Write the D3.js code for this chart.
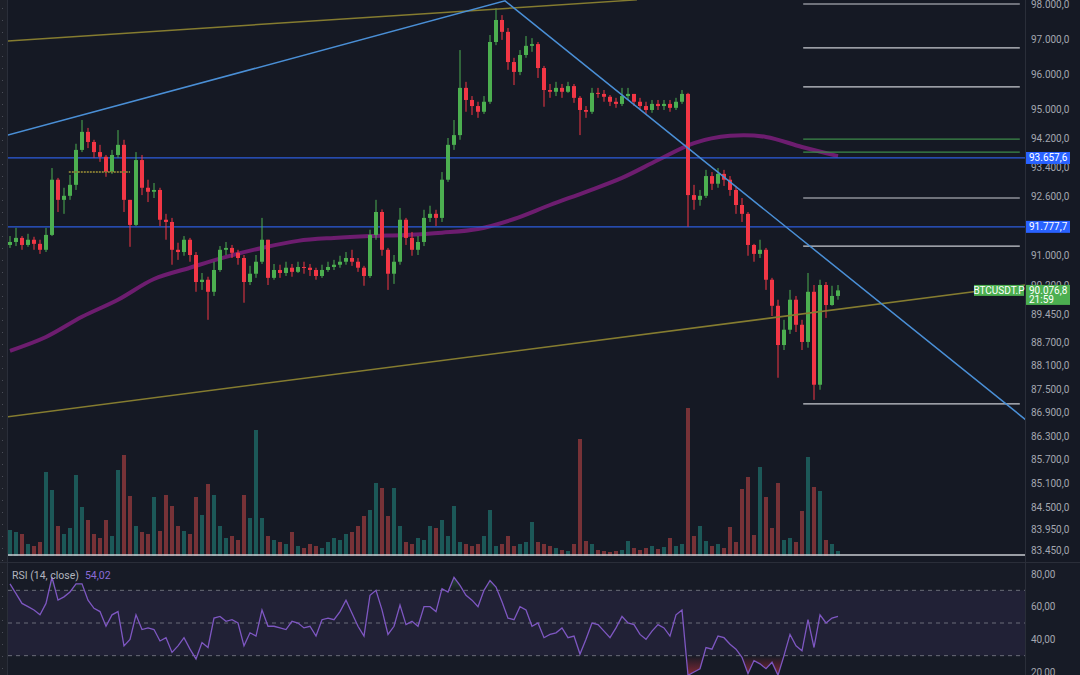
<!DOCTYPE html>
<html>
<head>
<meta charset="utf-8">
<script src="https://cdn.jsdelivr.net/npm/d3@7"></script>
<style>
  html, body { margin: 0; padding: 0; background: #151924; }
  svg { display: block; font-family: Roboto, "Liberation Sans", sans-serif; }
</style>
</head>
<body>
<div id="chart"></div>
<script>
// BTCUSDT.P candles, one every bar, prices
var firstOpen = 91290;
var closes = [
  91370, 91480, 91290, 91430, 91320, 91160, 91560, 93060, 92510, 92620,
  92920, 93880, 94380, 94100, 93820, 93690, 93270, 93740, 94020, 92510,
  91830, 93600, 92840, 92730, 92780, 91970, 91910, 91160, 91100, 91430,
  91020, 90300, 90360, 90040, 90620, 91160, 91210, 91080, 90940, 90300,
  90520, 90840, 91430, 90410, 90620, 90540, 90680, 90570, 90700, 90680,
  90620, 90460, 90620, 90700, 90760, 90840, 90940, 90840, 90680, 90460,
  91560, 92180, 91160, 90520, 90840, 91970, 91480, 91160, 91370, 92020,
  92130, 92020, 93060, 94020, 94290, 95610, 95270, 95100, 94940, 95220,
  96910, 97540, 97200, 96340, 96060, 96540, 96800, 96850, 96170, 95550,
  95500, 95610, 95500, 95660, 95330, 94990, 94940, 95470, 95440, 95360,
  95220, 95160, 95380, 95440, 95220, 95100, 94990, 95160, 95100, 95160,
  95050, 95220, 95440, 92640, 92510, 92620, 93160, 92950, 93220, 93060,
  92780, 92370, 92130, 91290, 91050, 91160, 90360, 89670, 88640, 89040,
  89830, 89170, 88720, 90040, 87610, 90220, 89690, 89930, 90076.8
];
var highs = [
  91530, 91750, 91530, 91590, 91510, 91430, 91750, 93380, 93110, 92840,
  93190, 94050, 94710, 94490, 94160, 94020, 93740, 93880, 94430, 94160,
  92510, 93820, 93740, 93060, 92970, 92840, 92130, 92020, 91350, 91530,
  91480, 91100, 90540, 90440, 90840, 91260, 91370, 91290, 91160, 91020,
  90730, 91020, 92020, 91430, 90780, 90760, 90840, 90780, 90840, 90840,
  90780, 90680, 90760, 90840, 90890, 91000, 91100, 91160, 90940, 90730,
  91700, 92510, 92250, 91210, 91020, 92290, 92020, 91640, 91530, 92240,
  92350, 92240, 93270, 94210, 94710, 96680, 95780, 95380, 95220, 95380,
  97110, 97880, 97680, 97310, 96460, 96680, 97080, 97020, 96910, 96230,
  95720, 95780, 95720, 95780, 95720, 95380, 95100, 95610, 95610, 95550,
  95410, 95330, 95610, 95610, 95440, 95330, 95220, 95270, 95270, 95270,
  95270, 95330, 95550, 95470, 92920, 92780, 93330, 93270, 93380, 93330,
  93160, 92890, 92560, 92180, 91320, 91430, 91210, 90410, 89830, 89300,
  90090, 89930, 89300, 90540, 90220, 90360, 90300, 90200, 90220
];
var lows = [
  91210, 91260, 91160, 91240, 91160, 91050, 91100, 91530, 92180, 92130,
  92510, 92780, 93820, 93930, 93660, 93550, 93140, 93220, 93660, 92180,
  91240, 91800, 92640, 92450, 92560, 91800, 91430, 90760, 90890, 91000,
  90840, 90040, 90090, 89300, 89930, 90570, 91020, 90940, 90760, 89750,
  90220, 90410, 90780, 90220, 90360, 90410, 90460, 90440, 90540, 90520,
  90460, 90360, 90410, 90570, 90620, 90680, 90760, 90730, 90570, 90200,
  90410, 91430, 91000, 90090, 90250, 90760, 91290, 91000, 91020, 91260,
  91910, 91800, 91910, 93000, 93880, 94160, 94940, 94850, 94770, 94880,
  95160, 96820, 96970, 96120, 95690, 95970, 96460, 96630, 95890, 95080,
  95330, 95380, 95330, 95470, 95190, 94290, 94770, 94880, 95330, 95220,
  95100, 95050, 95100, 95270, 95100, 94990, 94880, 94910, 94990, 94990,
  94940, 94990, 95160, 91780, 92240, 92350, 92560, 92780, 92840, 92890,
  92620, 92130, 91910, 91000, 90840, 90940, 90090, 89400, 87790, 88510,
  88930, 88980, 88510, 88570, 87220, 87480, 89350, 89670, 89830
];
var volumes = [
  26, 24, 22, 12, 10, 14, 84, 66, 30, 22,
  28, 81, 49, 36, 22, 18, 36, 20, 86, 101,
  60, 30, 24, 22, 59, 25, 61, 50, 30, 25,
  22, 59, 41, 72, 61, 30, 18, 20, 16, 61,
  38, 126, 38, 20, 16, 14, 12, 24, 10, 8,
  12, 10, 8, 14, 18, 16, 22, 24, 30, 40,
  46, 73, 68, 40, 68, 30, 14, 12, 18, 16,
  30, 28, 36, 20, 50, 14, 12, 10, 12, 20,
  46, 10, 12, 20, 10, 12, 14, 34, 14, 12,
  10, 8, 6, 5, 12, 117, 15, 12, 6, 5,
  4, 5, 6, 15, 8, 6, 8, 10, 7, 9,
  18, 10, 12, 148, 20, 30, 15, 10, 12, 8,
  29, 14, 67, 79, 21, 89, 59, 28, 73, 16,
  18, 14, 45, 99, 69, 65, 16, 12, 5
];
var rsi = [
  74, 68, 62, 60, 58, 55, 62, 78, 64, 66,
  69, 74, 74, 64, 59, 57, 48, 55, 57, 36,
  40, 55, 46, 47, 46, 39, 41, 32, 36, 41,
  34, 28, 38, 35, 53, 54, 51, 52, 50, 36,
  44, 42, 58, 48, 48, 47, 46, 51, 50, 47,
  48, 42, 52, 53, 52, 57, 64, 56, 48, 42,
  67, 70, 58, 43, 48, 61, 49, 51, 48, 60,
  60, 57, 71, 69, 78, 73, 67, 64, 60, 70,
  76, 72, 63, 53, 52, 60, 58, 48, 50, 41,
  43, 44, 47, 41, 42, 31, 40, 50, 49, 45,
  41, 47, 54, 50, 49, 43, 40, 45, 49, 47,
  42, 55, 58, 18, 20, 22, 35, 34, 42, 41,
  37, 34, 29, 19, 27, 25, 22, 26, 18, 30,
  43, 36, 33, 52, 35, 55, 50, 53, 54.02
];
// moving average, one value every 6 bars
var maStep = 6;
var maValues = [88490, 88850, 89380, 89830, 90380, 90680, 90970, 91210, 91400, 91480, 91530, 91560,
                91620, 91720, 91990, 92370, 92730, 93110, 93600, 94070, 94270, 94240, 93960, 93710];

var priceTicks = [98000, 97000, 96000, 95000, 94200, 93400, 92600, 91800, 91000, 90200, 89450,
                  88700, 88100, 87500, 86900, 86300, 85700, 85100, 84500, 83950, 83450];
var rsiTicks = [80, 60, 40, 20];
var rsiLevels = [70, 50, 30];

var whiteLevels = [98000, 96740, 95640, 92560, 91260, 87120];
var greenLevels = [94180, 93820];
var levelStart = 132.2, levelEnd = 168.3;
var blueLevels = [93657.6, 91777.7];
var baseLevel = 83330;

// drawings: [bar index, price]
var blueTrend = [[-0.35, 94290], [82.5, 98090], [169.3, 86710]];
var oliveUpper = [[-0.35, 96940], [104.5, 98120]];
var oliveLower = [[-0.35, 86790], [169.3, 90220]];
var oliveFlat = [[9.8, 93270], [20, 93270]];

var symbol = "BTCUSDT.P", countdown = "21:59";
var lastPrice = closes[closes.length - 1], lastRsi = rsi[rsi.length - 1];

var W = 1080, H = 675;
var loc = d3.formatLocale({decimal: ",", thousands: ".", grouping: [3], currency: ["", ""]});
var fmtPrice = loc.format(",.1f"), fmtRsi = loc.format(",.2f");

var n = closes.length;
var opens = closes.map(function(c, i) { return i === 0 ? firstOpen : closes[i - 1]; });

var x = d3.scaleLinear().domain([0, n - 1]).range([10, 838]);
var y = d3.scaleLog().domain([83450, 98000]).range([550, 4]);
var yVol = d3.scaleLinear().domain([0, 150]).range([556, 406]);
var yRsi = d3.scaleLinear().domain([20, 80]).range([672, 574]);

var upCol = "#4caf50", downCol = "#f23645";

var svg = d3.select("#chart").append("svg")
    .attr("width", W)
    .attr("height", H);

var defs = svg.append("defs");
defs.append("clipPath").attr("id", "mainClip")
  .append("rect").attr("x", 8).attr("y", 0).attr("width", 1017).attr("height", 561);
defs.append("clipPath").attr("id", "obClip")
  .append("rect").attr("x", 8).attr("y", 562).attr("width", 1017).attr("height", yRsi(70) - 562);
defs.append("clipPath").attr("id", "osClip")
  .append("rect").attr("x", 8).attr("y", yRsi(30)).attr("width", 1017).attr("height", H - yRsi(30));

var gOb = defs.append("linearGradient").attr("id", "obGrad")
    .attr("gradientUnits", "userSpaceOnUse").attr("x1", 0).attr("x2", 0)
    .attr("y1", yRsi(70)).attr("y2", yRsi(90));
gOb.append("stop").attr("offset", 0).attr("stop-color", "#4caf50").attr("stop-opacity", 0);
gOb.append("stop").attr("offset", 1).attr("stop-color", "#4caf50").attr("stop-opacity", 0.8);
var gOs = defs.append("linearGradient").attr("id", "osGrad")
    .attr("gradientUnits", "userSpaceOnUse").attr("x1", 0).attr("x2", 0)
    .attr("y1", yRsi(30)).attr("y2", yRsi(12));
gOs.append("stop").attr("offset", 0).attr("stop-color", "#f23645").attr("stop-opacity", 0);
gOs.append("stop").attr("offset", 1).attr("stop-color", "#f23645").attr("stop-opacity", 0.75);

// backgrounds
svg.append("rect").attr("width", W).attr("height", H).attr("fill", "#151924");
svg.append("rect").attr("x", 0).attr("y", 562).attr("width", W).attr("height", H - 562).attr("fill", "#171b26");
svg.append("rect").attr("x", 0).attr("y", 0).attr("width", 7).attr("height", H).attr("fill", "#1d2029");
svg.selectAll("rect.dot").data(d3.range(8, H, 12)).enter().append("rect")
    .attr("x", 2).attr("y", function(d) { return d; }).attr("width", 1).attr("height", 1)
    .attr("fill", "#4a4d57");
svg.append("line").attr("x1", 7.5).attr("x2", 7.5).attr("y1", 0).attr("y2", H).attr("stroke", "#2a2e39");
svg.append("line").attr("x1", 0).attr("x2", W).attr("y1", 562.5).attr("y2", 562.5).attr("stroke", "#2a2e39");
svg.append("line").attr("x1", 1025.5).attr("x2", 1025.5).attr("y1", 0).attr("y2", H).attr("stroke", "#2a2e39");

var main = svg.append("g").attr("clip-path", "url(#mainClip)");

// volume
main.selectAll("rect.vol").data(volumes).enter().append("rect")
    .attr("x", function(d, i) { return x(i) - 2; })
    .attr("y", function(d) { return yVol(d); })
    .attr("width", 4)
    .attr("height", function(d) { return yVol(0) - yVol(d); })
    .attr("fill", function(d, i) { return closes[i] >= opens[i] ? "#26a69a" : "#ef5350"; })
    .attr("opacity", 0.45);

// moving average
main.append("path")
    .datum(maValues)
    .attr("fill", "none")
    .attr("stroke", "#6d1d6f")
    .attr("stroke-width", 4)
    .attr("d", d3.line()
      .x(function(d, i) { return x(i * maStep); })
      .y(function(d) { return y(d); })
      .curve(d3.curveCatmullRom));

// horizontal levels
function hline(g, v, x1, x2, col, w) {
  g.append("line")
    .attr("x1", x1).attr("x2", x2)
    .attr("y1", y(v)).attr("y2", y(v))
    .attr("stroke", col).attr("stroke-width", w);
}
blueLevels.forEach(function(v) { hline(main, v, 8, 1025, "#2c5ddc", 1.2); });
hline(main, baseLevel, 8, 1025, "#c9cbd1", 1.5);
whiteLevels.forEach(function(v) { hline(main, v, x(levelStart), x(levelEnd), "#c9cbd1", 1.2); });
greenLevels.forEach(function(v) { hline(main, v, x(levelStart), x(levelEnd), "#3d8a48", 1.2); });

// candles
var candle = main.selectAll("g.candle").data(closes).enter().append("g");
candle.append("line")
    .attr("x1", function(d, i) { return x(i); })
    .attr("x2", function(d, i) { return x(i); })
    .attr("y1", function(d, i) { return y(Math.max(highs[i], opens[i], d)); })
    .attr("y2", function(d, i) { return y(Math.min(lows[i], opens[i], d)); })
    .attr("stroke", function(d, i) { return d >= opens[i] ? upCol : downCol; })
    .attr("stroke-width", 1);
candle.append("rect")
    .attr("x", function(d, i) { return x(i) - 2; })
    .attr("y", function(d, i) { return y(Math.max(opens[i], d)); })
    .attr("width", 4)
    .attr("height", function(d, i) { return Math.max(1, Math.abs(y(opens[i]) - y(d))); })
    .attr("fill", function(d, i) { return d >= opens[i] ? upCol : downCol; });

// drawings
var trendLine = d3.line()
    .x(function(d) { return x(d[0]); })
    .y(function(d) { return y(d[1]); });
main.append("path").datum(oliveUpper).attr("d", trendLine)
    .attr("fill", "none").attr("stroke", "#857c30").attr("stroke-width", 1.5);
main.append("path").datum(oliveLower).attr("d", trendLine)
    .attr("fill", "none").attr("stroke", "#857c30").attr("stroke-width", 1.5);
main.append("path").datum(oliveFlat).attr("d", trendLine)
    .attr("fill", "none").attr("stroke", "#7d7432").attr("stroke-width", 2).attr("stroke-dasharray", "2,1");
main.append("path").datum(blueTrend).attr("d", trendLine)
    .attr("fill", "none").attr("stroke", "#4a8fd6").attr("stroke-width", 1.5);

// RSI pane
svg.append("rect")
    .attr("x", 8).attr("width", 1017)
    .attr("y", yRsi(70)).attr("height", yRsi(30) - yRsi(70))
    .attr("fill", "#7e57c2").attr("opacity", 0.1);
svg.selectAll("line.rsiLevel").data(rsiLevels).enter().append("line")
    .attr("x1", 8).attr("x2", 1025)
    .attr("y1", function(d) { return yRsi(d); })
    .attr("y2", function(d) { return yRsi(d); })
    .attr("stroke", "#6a6d78").attr("stroke-dasharray", "4,4");

svg.append("path").datum(rsi)
    .attr("clip-path", "url(#obClip)")
    .attr("fill", "url(#obGrad)")
    .attr("d", d3.area()
      .x(function(d, i) { return x(i); })
      .y0(yRsi(70))
      .y1(function(d) { return yRsi(d); }));
svg.append("path").datum(rsi)
    .attr("clip-path", "url(#osClip)")
    .attr("fill", "url(#osGrad)")
    .attr("d", d3.area()
      .x(function(d, i) { return x(i); })
      .y0(yRsi(30))
      .y1(function(d) { return yRsi(d); }));
svg.append("path").datum(rsi)
    .attr("fill", "none")
    .attr("stroke", "#7e57c2")
    .attr("stroke-width", 1.3)
    .attr("d", d3.line()
      .x(function(d, i) { return x(i); })
      .y(function(d) { return yRsi(d); }));

var rsiName = svg.append("text").attr("x", 12).attr("y", 579)
    .attr("font-size", "10.5px").attr("fill", "#b2b5be").text("RSI (14, close)");
var nameEnd = 12 + rsiName.node().getComputedTextLength();
svg.append("text").attr("x", nameEnd + 6).attr("y", 579)
    .attr("font-size", "10.5px").attr("fill", "#8c6bd6").text(fmtRsi(lastRsi));

// axes
var yAxis = svg.append("g")
    .attr("transform", "translate(1025,0)")
    .call(d3.axisRight(y).tickValues(priceTicks).tickFormat(fmtPrice).tickSize(0).tickPadding(6));
var rAxis = svg.append("g")
    .attr("transform", "translate(1025,0)")
    .call(d3.axisRight(yRsi).tickValues(rsiTicks).tickFormat(fmtRsi).tickSize(0).tickPadding(6));
[yAxis, rAxis].forEach(function(g) {
  g.select(".domain").remove();
  g.selectAll("text").attr("fill", "#a3a6af").attr("font-size", "10px")
    .attr("font-family", "Roboto, 'Liberation Sans', sans-serif");
});

// price badges
blueLevels.forEach(function(v) {
  svg.append("rect").attr("x", 1026).attr("y", y(v) - 6).attr("width", 44).attr("height", 12)
    .attr("fill", "#2962ff");
  svg.append("text").attr("x", 1029).attr("y", y(v)).attr("dy", "0.35em")
    .attr("font-size", "10px").attr("fill", "#ffffff").text(fmtPrice(v));
});
var ly = y(lastPrice);
svg.append("rect").attr("x", 974).attr("y", ly - 5.5).attr("width", 50).attr("height", 11)
    .attr("fill", "#4caf50");
svg.append("text").attr("x", 999).attr("y", ly).attr("dy", "0.35em").attr("text-anchor", "middle")
    .attr("font-size", "10px").attr("fill", "#ffffff").text(symbol);
svg.append("rect").attr("x", 1026).attr("y", ly - 5.5).attr("width", 44).attr("height", 20)
    .attr("fill", "#4caf50");
svg.append("text").attr("x", 1029).attr("y", ly).attr("dy", "0.35em")
    .attr("font-size", "10px").attr("fill", "#ffffff").text(fmtPrice(lastPrice));
svg.append("text").attr("x", 1029).attr("y", ly + 9).attr("dy", "0.35em")
    .attr("font-size", "10px").attr("fill", "#ffffff").text(countdown);
</script>
</body>
</html>
